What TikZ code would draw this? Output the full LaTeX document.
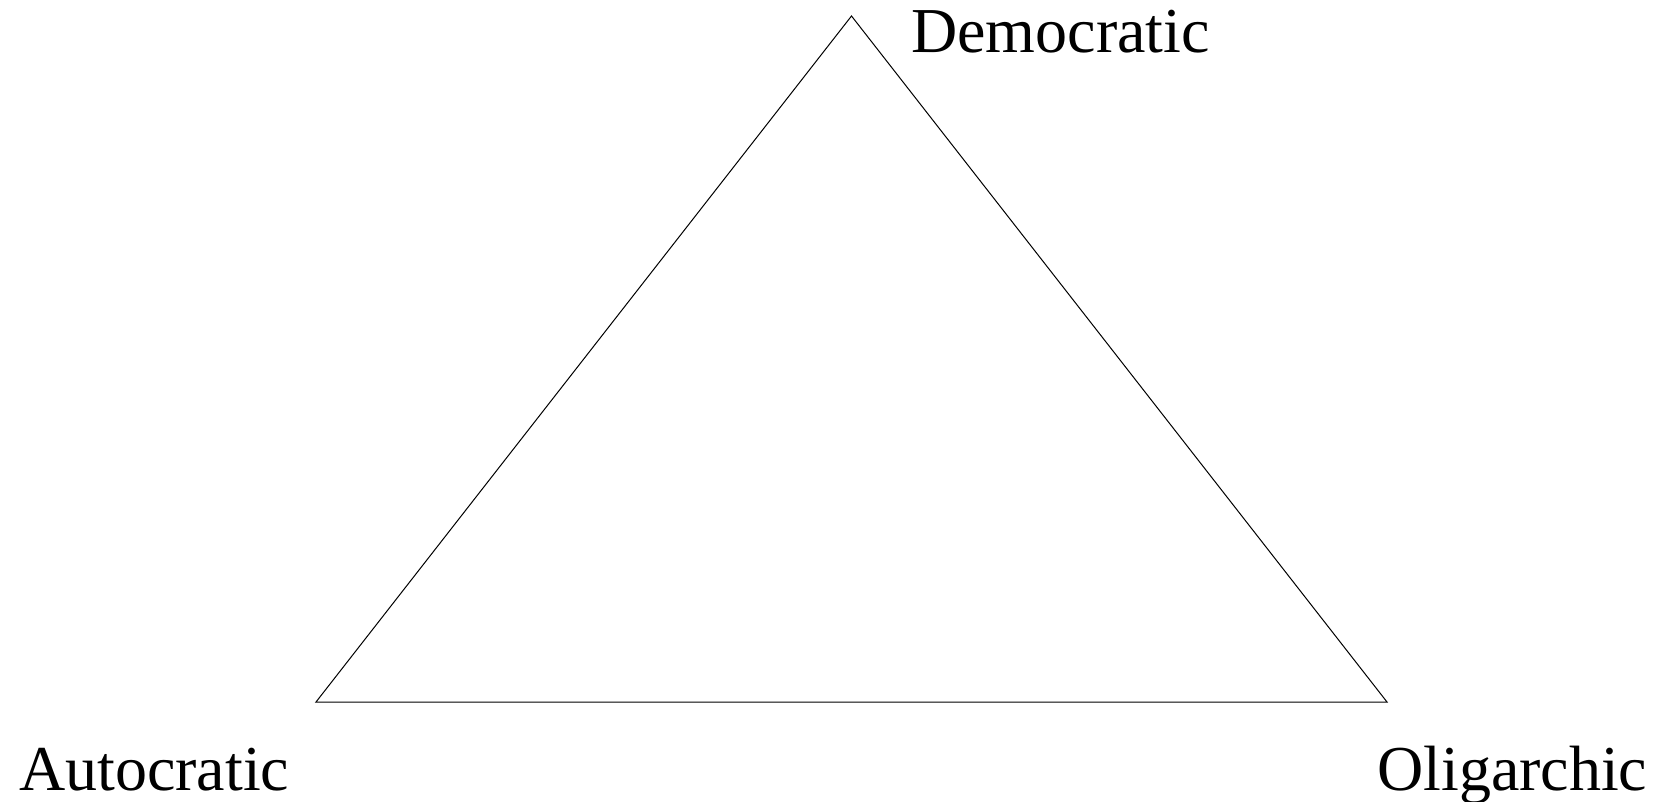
\documentclass[tikz,border=0pt]{standalone}
\usepackage{fontspec}
\setmainfont{Liberation Serif}
\begin{document}
\begin{tikzpicture}[x=1pt,y=1pt,
  lbl/.style={inner sep=0pt,anchor=base west,font=\fontsize{64}{72}\selectfont},
  edge/.style={draw=black,line width=1pt,line join=miter}]
\useasboundingbox (0,0) rectangle (1663,801);
\coordinate (D) at (851.5,785);
\coordinate (A) at (316,99);
\coordinate (O) at (1387,99);
\draw[edge] (D) -- (A) -- (O) -- cycle;
\node[lbl] (dl) at (911,748) {Democratic};
\node[lbl] (al) at (19,11) {Autocratic};
\node[lbl] (ol) at (1377,11) {Oligarchic};
\end{tikzpicture}
\end{document}
